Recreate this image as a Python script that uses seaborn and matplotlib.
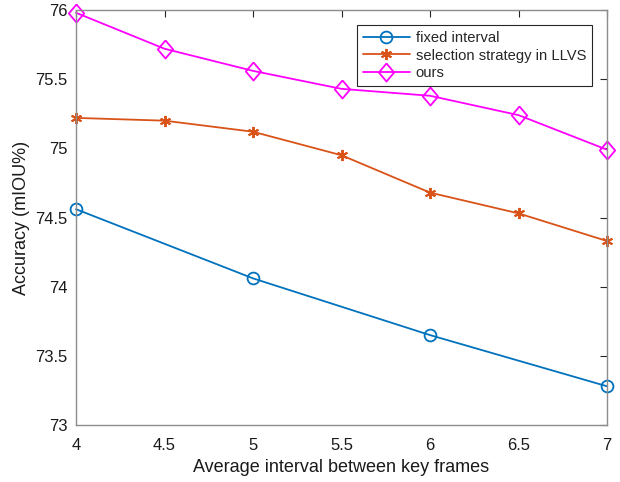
import matplotlib
matplotlib.use("Agg")
import matplotlib.pyplot as plt
import seaborn as sns
import pandas as pd

x_fixed = [4, 5, 6, 7]
y_fixed = [74.56, 74.06, 73.65, 73.28]
x_all = [4, 4.5, 5, 5.5, 6, 6.5, 7]
y_llvs = [75.22, 75.20, 75.12, 74.95, 74.68, 74.53, 74.33]
y_ours = [75.98, 75.72, 75.56, 75.43, 75.38, 75.24, 74.99]
labels = ["fixed interval", "selection strategy in LLVS", "ours"]
xticks = [4, 4.5, 5, 5.5, 6, 6.5, 7]
yticks = [73, 73.5, 74, 74.5, 75, 75.5, 76]

sns.set_style("white")
plt.rcParams['font.family'] = ['Liberation Sans', 'DejaVu Sans']

fig = plt.figure(figsize=(6.2, 4.82), dpi=100)
ax = fig.add_axes([76/620, 57/482, 531/620, 415/482])

df1 = pd.DataFrame({"x": x_fixed, "y": y_fixed})
df2 = pd.DataFrame({"x": x_all, "y": y_llvs})
df3 = pd.DataFrame({"x": x_all, "y": y_ours})

diamond = [(0, 1), (0.85, 0), (0, -1), (-0.85, 0), (0, 1)]

sns.lineplot(data=df1, x="x", y="y", ax=ax, color="#0072BD", marker="o", markersize=8.5,
             markerfacecolor="none", markeredgecolor="#0072BD", markeredgewidth=1.3, linewidth=1.3,
             label=labels[0], clip_on=False)
sns.lineplot(data=df2, x="x", y="y", ax=ax, color="#D95319", marker=(6, 2, 0), markersize=8,
             markeredgecolor="#D95319", markeredgewidth=1.4, linewidth=1.3, label=labels[1], clip_on=False)
sns.lineplot(data=df3, x="x", y="y", ax=ax, color="#FF00FF", marker=diamond, markersize=13,
             markerfacecolor="none", markeredgecolor="#FF00FF", markeredgewidth=1.3, linewidth=1.3,
             label=labels[2], clip_on=False)

ax.set_xlim(4, 7)
ax.set_ylim(73, 76)
ax.set_xticks(xticks)
ax.set_xticklabels(["4", "4.5", "5", "5.5", "6", "6.5", "7"])
ax.set_yticks(yticks)
ax.set_yticklabels(["73", "73.5", "74", "74.5", "75", "75.5", "76"])
ax.tick_params(direction="in", length=5, width=0.8, color="#262626", labelsize=12,
               top=True, right=True, labelcolor="#1a1a1a", pad=6)
ax.tick_params(axis="x", pad=9)
for s in ax.spines.values():
    s.set_color("#8c8c8c")
    s.set_linewidth(1.0)
ax.set_xlabel("Average interval between key frames", fontsize=13, color="#1a1a1a", labelpad=5)
ax.set_ylabel("Accuracy (mIOU%)", fontsize=13, color="#1a1a1a")

leg = ax.legend(loc="upper right", bbox_to_anchor=(0.972, 0.964), borderaxespad=0, fontsize=10.6,
                frameon=True, fancybox=False, edgecolor="#262626", handlelength=3.2, borderpad=0.4,
                labelspacing=0.25, handletextpad=0.4, framealpha=1)
leg.get_frame().set_linewidth(0.8)
leg.set_zorder(10)

fig.savefig("out.png", dpi=100)
